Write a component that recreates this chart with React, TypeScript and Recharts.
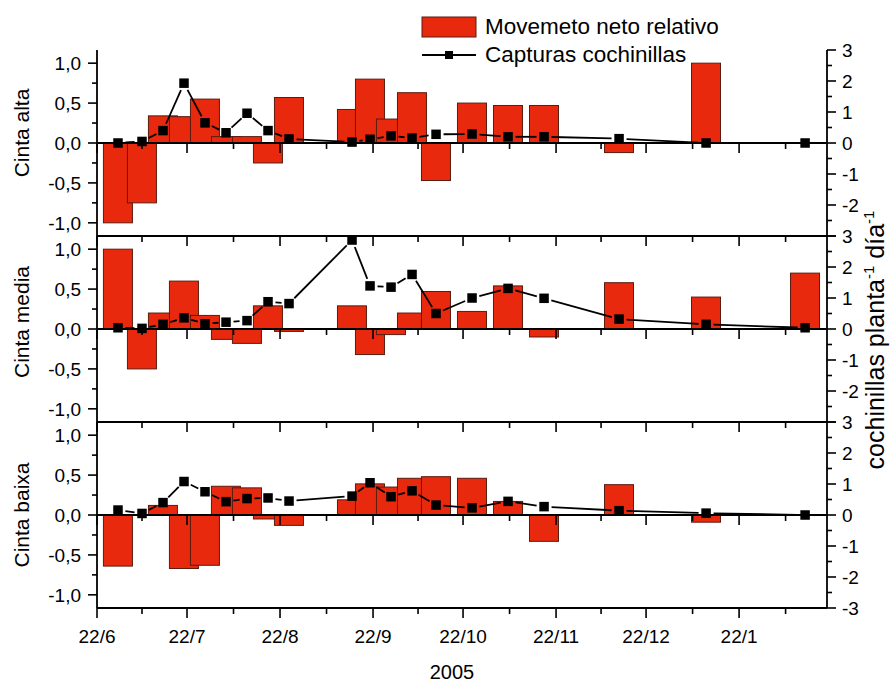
import React from 'react';
import { ComposedChart, Bar, Scatter, XAxis, YAxis, ReferenceLine } from 'recharts';

const FONT = '"Liberation Sans", Arial, sans-serif';
const RED = '#E8290E';
const BAR_EDGE = '#5a1c10';

// sampling dates, as days counted from 22 June 2005
const SAMPLE_DAYS = [7, 15, 22, 29, 36, 43, 50, 57, 64, 85, 91, 98, 105, 113, 125, 137, 149, 174, 203, 236];

// net relative movement (left axis) and mealybug catches (right axis), one pair per tape
const MOV_ALTA = [-1.0, -0.75, 0.34, 0.33, 0.55, 0.08, 0.08, -0.25, 0.57, 0.42, 0.8, 0.3, 0.63, -0.47, 0.5, 0.47, 0.47, -0.12, 1.0, 0];
const CAP_ALTA = [0, 0.05, 0.4, 1.93, 0.65, 0.33, 0.96, 0.4, 0.13, 0.03, 0.12, 0.23, 0.16, 0.28, 0.29, 0.2, 0.2, 0.14, 0, 0];

const MOV_MEDIA = [1.0, -0.5, 0.2, 0.6, 0.17, -0.13, -0.18, 0.29, -0.03, 0.29, -0.32, -0.07, 0.2, 0.47, 0.22, 0.54, -0.1, 0.58, 0.4, 0.7];
const CAP_MEDIA = [0.04, 0.02, 0.15, 0.36, 0.17, 0.22, 0.27, 0.88, 0.82, 2.87, 1.39, 1.35, 1.76, 0.5, 1.0, 1.31, 0.99, 0.32, 0.15, 0.04];

const MOV_BAIXA = [-0.64, 0, 0.12, -0.67, -0.63, 0.36, 0.34, -0.05, -0.13, 0.19, 0.39, 0.35, 0.46, 0.48, 0.46, 0.17, -0.33, 0.38, -0.09, 0];
const CAP_BAIXA = [0.16, 0.05, 0.4, 1.08, 0.75, 0.43, 0.53, 0.55, 0.45, 0.61, 1.04, 0.59, 0.78, 0.32, 0.23, 0.44, 0.27, 0.14, 0.06, 0];

const MONTH_DAYS = [0, 30, 61, 92, 122, 153, 183, 214];
const MONTH_LABELS = ['22/6', '22/7', '22/8', '22/9', '22/10', '22/11', '22/12', '22/1'];
const HALF_MONTH_DAYS = [15, 45.5, 76.5, 107, 137.5, 168, 198.5, 229.5];
const X_END = 243.3;

const LEFT_MAJOR = [-1, -0.5, 0, 0.5, 1];
const LEFT_MINOR = [-0.75, -0.25, 0.25, 0.75];
const RIGHT_MAJOR = [-3, -2, -1, 0, 1, 2, 3];
const RIGHT_MINOR = [-2.5, -1.5, -0.5, 0.5, 1.5, 2.5];

const W = 890;
const H = 684;
const PLOT_LEFT = 97;
const PLOT_RIGHT = 827;
const PANEL_H = 186;
const LEFT_W = 92;
const RIGHT_W = 50;
const X_H = 40;
const BAR_W = 29;
const GAP = 7.5;
const MARK = 9.5;
const STROKE = 1.8;
const TICK_FONT = 19;

const X_TICKS = [...MONTH_DAYS, ...HALF_MONTH_DAYS].sort((a, b) => a - b);
const LEFT_TICKS = [...LEFT_MAJOR, ...LEFT_MINOR].sort((a, b) => a - b);
const RIGHT_TICKS = [...RIGHT_MAJOR, ...RIGHT_MINOR].sort((a, b) => a - b);
const AXIS_LINE = { stroke: '#000', strokeWidth: STROKE };

function DateTick({ x, y, payload, showLabel }: any) {
  const idx = MONTH_DAYS.indexOf(payload.value);
  const major = idx >= 0;
  return (
    <g>
      <line x1={x} y1={y} x2={x} y2={y + (major ? 10 : 6)} stroke="#000" strokeWidth={1.6} />
      {showLabel && major && (
        <text x={x} y={y + 35} textAnchor="middle" fontSize={TICK_FONT} fontFamily={FONT} fill="#000">
          {MONTH_LABELS[idx]}
        </text>
      )}
    </g>
  );
}

function LeftTick({ x, y, payload }: any) {
  const v = payload.value;
  const major = LEFT_MAJOR.includes(v);
  return (
    <g>
      <line x1={x - (major ? 9 : 5)} y1={y} x2={x} y2={y} stroke="#000" strokeWidth={1.6} />
      {major && (
        <text x={x - 16} y={y} dy="0.36em" textAnchor="end" fontSize={TICK_FONT} fontFamily={FONT} fill="#000">
          {v.toFixed(1).replace('.', ',')}
        </text>
      )}
    </g>
  );
}

// the lowest label is left to the panel underneath, whose "3" sits on the same line
function RightTick({ x, y, payload, showBottom }: any) {
  const v = payload.value;
  const major = RIGHT_MAJOR.includes(v);
  const labelled = major && (showBottom || v !== -3);
  return (
    <g>
      <line x1={x} y1={y} x2={x + (major ? 9 : 5)} y2={y} stroke="#000" strokeWidth={1.6} />
      {labelled && (
        <text x={x + 15} y={y} dy="0.36em" textAnchor="start" fontSize={TICK_FONT} fontFamily={FONT} fill="#000">
          {String(v)}
        </text>
      )}
    </g>
  );
}

// bar centred on its sampling date, fixed width regardless of date spacing
function MovBar({ x, y, width, height }: any) {
  if (!height || !isFinite(x) || !isFinite(y)) return null;
  const cx = x + width / 2;
  const top = Math.min(y, y + height);
  return (
    <rect x={cx - BAR_W / 2} y={top} width={BAR_W} height={Math.abs(height)} fill={RED} stroke={BAR_EDGE} strokeWidth={1} />
  );
}

function ZeroTick({ cx, cy, len }: any) {
  return <line x1={cx} y1={cy} x2={cx} y2={cy + len} stroke="#000" strokeWidth={1.6} />;
}

function SquareMarker({ cx, cy }: any) {
  return <rect x={cx - MARK / 2} y={cy - MARK / 2} width={MARK} height={MARK} fill="#000" />;
}

// segments stop short of each marker, leaving a small gap around the squares
function GappedLine(props: any) {
  const pts = props.points || [];
  const segs = [];
  for (let i = 1; i < pts.length; i++) {
    const a = pts[i - 1];
    const b = pts[i];
    const dx = b.x - a.x;
    const dy = b.y - a.y;
    const len = Math.hypot(dx, dy);
    if (len <= 2 * GAP) continue;
    const ux = dx / len;
    const uy = dy / len;
    segs.push(
      <line
        key={i}
        x1={a.x + ux * GAP}
        y1={a.y + uy * GAP}
        x2={b.x - ux * GAP}
        y2={b.y - uy * GAP}
        stroke="#000"
        strokeWidth={STROKE}
      />
    );
  }
  return <g>{segs}</g>;
}

interface PanelProps {
  title: string;
  mov: number[];
  cap: number[];
  top: number;
  bottomPanel?: boolean;
  titleDy?: number;
}

function Panel({ title, mov, cap, top, bottomPanel = false, titleDy = 0 }: PanelProps) {
  const data = SAMPLE_DAYS.map((day, i) => ({ day, mov: mov[i] }));
  const captures = SAMPLE_DAYS.map((day, i) => ({ day, cap: cap[i] }));
  const majorZero = MONTH_DAYS.map((day) => ({ day, zero: 0 }));
  const minorZero = HALF_MONTH_DAYS.map((day) => ({ day, zero: 0 }));

  return (
    <div style={{ position: 'absolute', left: 0, top: 0 }}>
      <ComposedChart
        width={W}
        height={H}
        data={data}
        margin={{
          top,
          left: PLOT_LEFT - LEFT_W,
          right: W - PLOT_RIGHT - RIGHT_W,
          bottom: H - top - PANEL_H - X_H,
        }}
      >
        <XAxis
          dataKey="day"
          type="number"
          domain={[0, X_END]}
          ticks={X_TICKS}
          interval={0}
          height={X_H}
          tickSize={0}
          tickMargin={0}
          tickLine={false}
          axisLine={AXIS_LINE}
          tick={(p: any) => <DateTick {...p} showLabel={bottomPanel} />}
        />
        <YAxis
          yAxisId="left"
          type="number"
          domain={[-1.165, 1.165]}
          ticks={LEFT_TICKS}
          interval={0}
          width={LEFT_W}
          tickSize={0}
          tickMargin={0}
          tickLine={false}
          axisLine={AXIS_LINE}
          tick={(p: any) => <LeftTick {...p} />}
          label={{
            value: title,
            angle: -90,
            position: 'insideLeft',
            offset: 17,
            dy: titleDy,
            fontSize: 21,
            fontFamily: FONT,
            fill: '#000',
            style: { textAnchor: 'middle' },
          }}
        />
        <YAxis
          yAxisId="right"
          orientation="right"
          type="number"
          domain={[-3, 3]}
          ticks={RIGHT_TICKS}
          interval={0}
          width={RIGHT_W}
          tickSize={0}
          tickMargin={0}
          tickLine={false}
          axisLine={AXIS_LINE}
          tick={(p: any) => <RightTick {...p} showBottom={bottomPanel} />}
        />
        <Bar
          yAxisId="left"
          dataKey="mov"
          barSize={BAR_W}
          fill={RED}
          shape={(p: any) => <MovBar {...p} />}
          isAnimationActive={false}
        />
        <ReferenceLine yAxisId="left" y={0} stroke="#000" strokeWidth={STROKE} />
        <Scatter
          yAxisId="left"
          data={majorZero}
          dataKey="zero"
          shape={(p: any) => <ZeroTick {...p} len={10} />}
          isAnimationActive={false}
        />
        <Scatter
          yAxisId="left"
          data={minorZero}
          dataKey="zero"
          shape={(p: any) => <ZeroTick {...p} len={6} />}
          isAnimationActive={false}
        />
        <Scatter
          yAxisId="right"
          data={captures}
          dataKey="cap"
          fill="#000"
          line={GappedLine}
          shape={(p: any) => <SquareMarker {...p} />}
          isAnimationActive={false}
        />
      </ComposedChart>
    </div>
  );
}

export default function App() {
  return (
    <div style={{ position: 'absolute', left: 0, top: 0, width: W, height: H, background: '#fff' }}>
      <Panel title="Cinta alta" mov={MOV_ALTA} cap={CAP_ALTA} top={50} titleDy={-10} />
      <Panel title="Cinta media" mov={MOV_MEDIA} cap={CAP_MEDIA} top={236} titleDy={-7} />
      <Panel title="Cinta baixa" mov={MOV_BAIXA} cap={CAP_BAIXA} top={422} bottomPanel />
      <svg
        width={W}
        height={H}
        style={{ position: 'absolute', left: 0, top: 0, pointerEvents: 'none' }}
        fontFamily={FONT}
      >
        {/* legend */}
        <rect x={422} y={17} width={54} height={20} fill={RED} stroke={BAR_EDGE} strokeWidth={1} />
        <text x={485} y={34} fontSize={22.5} fill="#000">Movemeto neto relativo</text>
        <line x1={422} y1={55} x2={476} y2={55} stroke="#000" strokeWidth={STROKE} />
        <rect x={445} y={51} width={8} height={8} fill="#000" />
        <text x={485} y={62} fontSize={22.5} fill="#000">Capturas cochinillas</text>

        {/* right axis title */}
        <text x={884} y={340} transform="rotate(-90, 884, 340)" textAnchor="middle" fontSize={25} fill="#000">
          cochinillas planta
          <tspan dy={-10} fontSize={15}>-1</tspan>
          <tspan dy={10}> día</tspan>
          <tspan dy={-10} fontSize={15}>-1</tspan>
        </text>

        {/* x axis title */}
        <text x={452} y={679} textAnchor="middle" fontSize={20} fill="#000">2005</text>
      </svg>
    </div>
  );
}
